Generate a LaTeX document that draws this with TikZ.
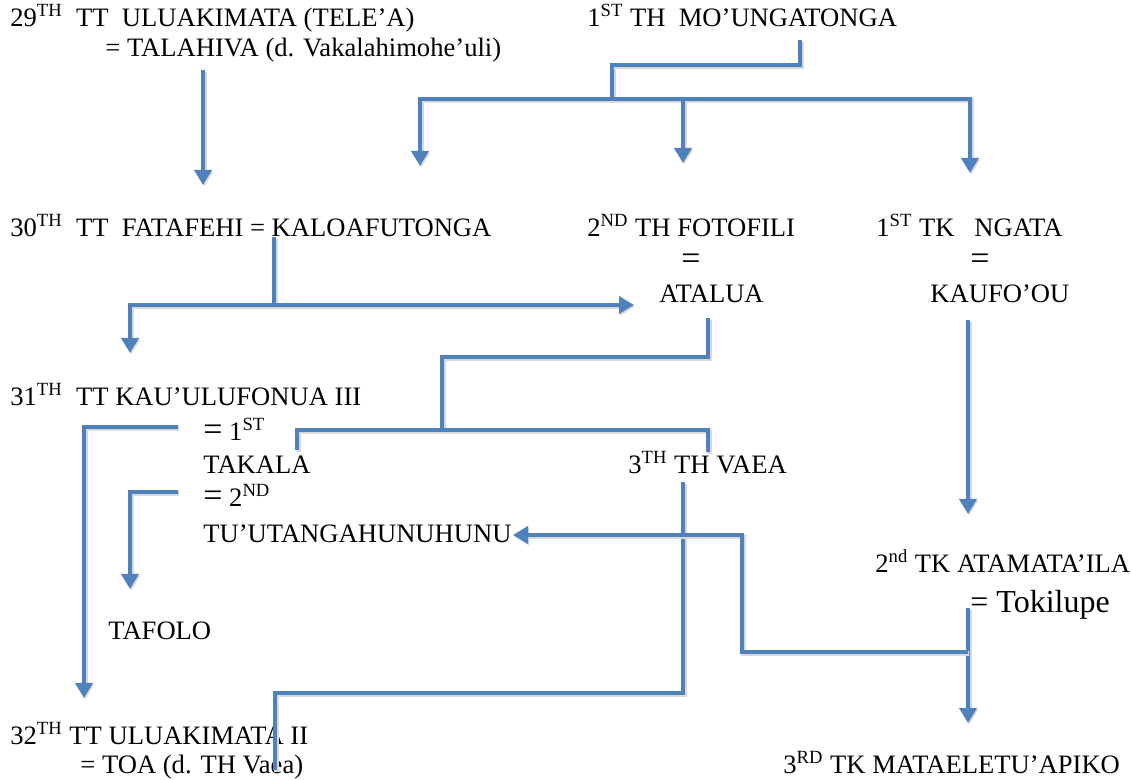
\documentclass[tikz,border=0pt]{standalone}
\usepackage{fontspec}
\setmainfont{Liberation Serif}
\usetikzlibrary{arrows.meta}
\definecolor{linkblue}{RGB}{79,129,189}
% a wider equals sign, as used between spouses
\newcommand{\wideeq}{{\fontsize{17}{17}\selectfont=}}
\begin{document}
\begin{tikzpicture}[x=0.5pt,y=-0.5pt,
  lbl/.style={anchor=base west,inner sep=0pt,font=\fontsize{13.3}{16}\selectfont},
  link/.style={draw=linkblue,line width=2.4pt,
    preaction={draw=black!15,line width=2.4pt,transform canvas={shift={(0.6pt,-0.8pt)}}}},
  arr/.style={link,-{Triangle[width=8.5pt,length=7.5pt]}}]
\useasboundingbox (0,0) rectangle (1132,780);

% ---- people ----
\node[lbl] (t29) at (10,27) {29\textsuperscript{TH}\ \ TT\ \ ULUAKIMATA (TELE’A)};
\node[lbl] (t29w) at (105,57) {= TALAHIVA (d. Vakalahimohe’uli)};
\node[lbl] (th1) at (587,27) {1\textsuperscript{ST} TH\ \ MO’UNGATONGA};
\node[lbl] (t30) at (10,237) {30\textsuperscript{TH}\ \ TT\ \ FATAFEHI = KALOAFUTONGA};
\node[lbl] (th2) at (587,237) {2\textsuperscript{ND} TH FOTOFILI};
\node[lbl,anchor=base] (th2eq) at (691,270) {\wideeq};
\node[lbl] (atalua) at (659,303) {ATALUA};
\node[lbl] (tk1) at (876,237) {1\textsuperscript{ST} TK\ \ \ NGATA};
\node[lbl,anchor=base] (tk1eq) at (980,270) {\wideeq};
\node[lbl] (kaufoou) at (930,303) {KAUFO’OU};
\node[lbl] (t31) at (10,406) {31\textsuperscript{TH}\ \ TT KAU’ULUFONUA III};
\node[lbl] (w1a) at (203,441) {\wideeq\ 1\textsuperscript{ST}};
\node[lbl] (w1b) at (203,474) {TAKALA};
\node[lbl] (w2a) at (203,507) {\wideeq\ 2\textsuperscript{ND}};
\node[lbl] (w2b) at (203,543) {TU’UTANGAHUNUHUNU};
\node[lbl] (tafolo) at (108,640) {TAFOLO};
\node[lbl] (th3) at (628,474) {3\textsuperscript{TH} TH VAEA};
\node[lbl] (tk2) at (875,573) {2\textsuperscript{nd} TK ATAMATA’ILA};
\node[lbl,font=\fontsize{16}{19}\selectfont] (tk2w) at (970,613) {= Tokilupe};
\node[lbl] (t32) at (10,745) {32\textsuperscript{TH} TT ULUAKIMATA II};
\node[lbl] (t32w) at (80,774) {= TOA (d. TH Vaea)};
\node[lbl] (tk3) at (783,774) {3\textsuperscript{RD} TK MATAELETU’APIKO};

% ---- junction points ----
\coordinate (a0) at (203,70);   \coordinate (a1) at (203,185);
\coordinate (b0) at (800,40);   \coordinate (b1) at (800,65);
\coordinate (b2) at (612,65);   \coordinate (b3) at (612,99);
\coordinate (bl) at (420,99);   \coordinate (bl1) at (420,166);
\coordinate (bm) at (683,99);   \coordinate (bm1) at (683,163);
\coordinate (br) at (970,99);   \coordinate (br1) at (970,173);
\coordinate (c0) at (274,237);  \coordinate (c1) at (274,305);
\coordinate (cl) at (130,305);  \coordinate (cl1) at (130,353);
\coordinate (cr) at (634,305);
\coordinate (d0) at (708,318);  \coordinate (d1) at (708,357);
\coordinate (d2) at (442,357);  \coordinate (d3) at (442,430);
\coordinate (dl) at (297,430);  \coordinate (dl1) at (297,450);
\coordinate (dr) at (708,430);  \coordinate (dr1) at (708,452);
\coordinate (e0) at (968,320);  \coordinate (e1) at (968,514);
\coordinate (f0) at (178,427);  \coordinate (f1) at (84,427);
\coordinate (f2) at (84,698);
\coordinate (g0) at (178,492);  \coordinate (g1) at (130,492);
\coordinate (g2) at (130,589);
\coordinate (h0) at (683,482);  \coordinate (h1) at (683,693);
\coordinate (h2) at (275,693);  \coordinate (h3) at (275,770);
\coordinate (i0) at (968,608);  \coordinate (i1) at (968,652);
\coordinate (i2) at (968,723);
\coordinate (j1) at (742,652);  \coordinate (j2) at (742,535);
\coordinate (j3) at (513,535);

% ---- lines of descent ----
\draw[arr] (a0) -- (a1);
\draw[link] (b0) -- (b1) -- (b2) -- (b3);
\draw[arr] (b3) -- (bl) -- (bl1);
\draw[arr] (b3) -- (br) -- (br1);
\draw[arr] (bm) -- (bm1);
\draw[link] (c0) -- (c1);
\draw[arr] (c1) -- (cl) -- (cl1);
\draw[arr] (c1) -- (cr);
\draw[link] (d0) -- (d1) -- (d2) -- (d3);
\draw[link] (dl1) -- (dl) -- (dr) -- (dr1);
\draw[arr] (e0) -- (e1);
\draw[arr] (f0) -- (f1) -- (f2);
\draw[arr] (g0) -- (g1) -- (g2);
\draw[link] (h0) -- (h1) -- (h2) -- (h3);
\draw[arr] (i0) -- (i2);
\draw[arr] (i1) -- (j1) -- (j2) -- (j3);
\end{tikzpicture}
\end{document}
